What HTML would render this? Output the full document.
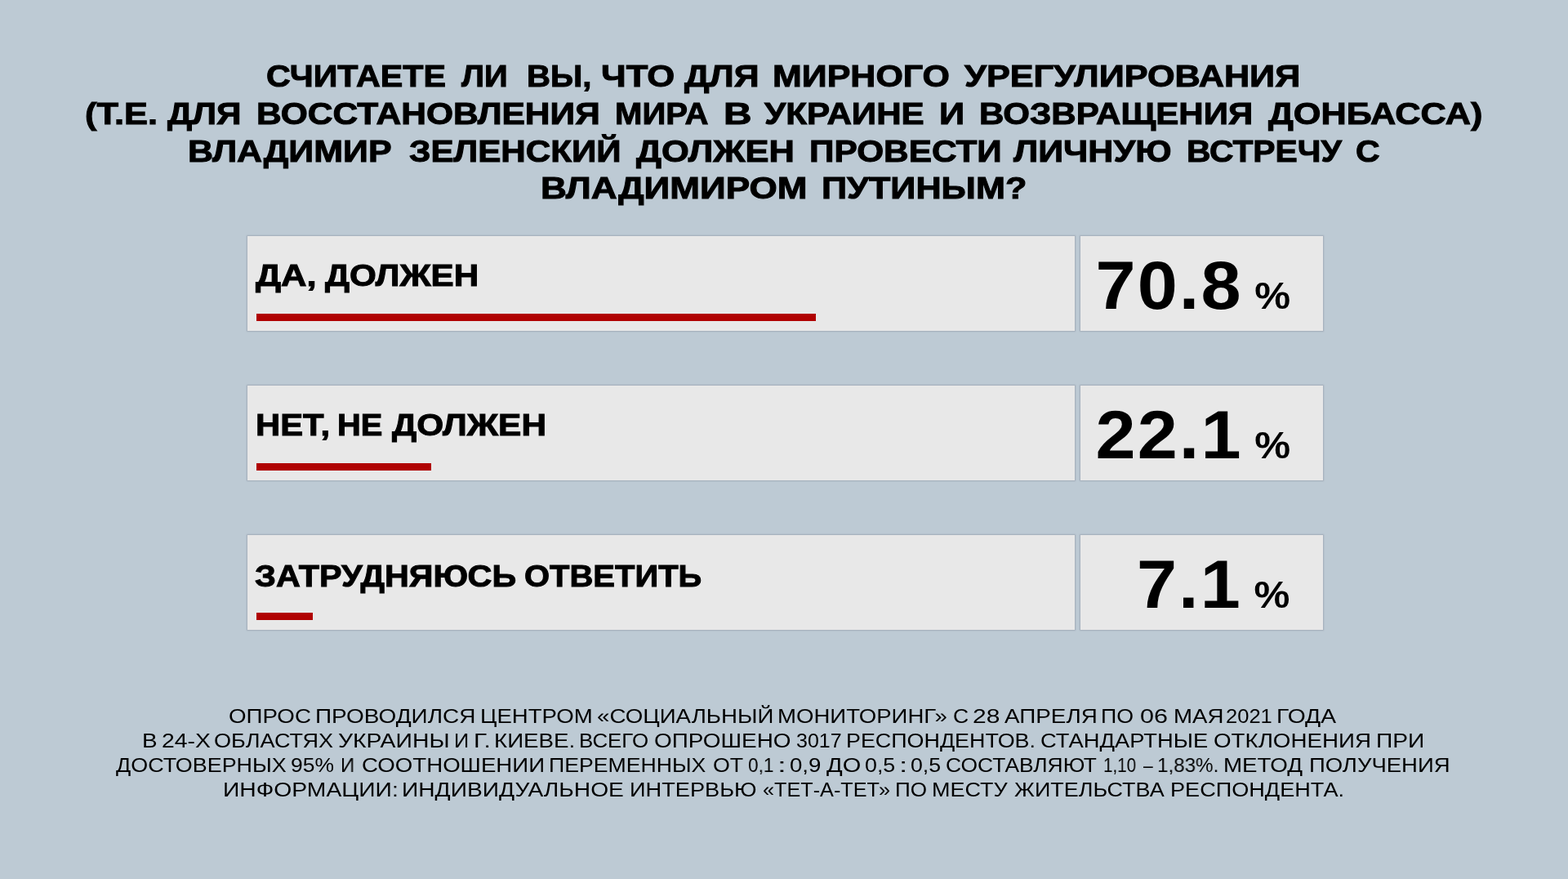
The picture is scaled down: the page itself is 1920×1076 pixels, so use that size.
<!DOCTYPE html>
<html lang="ru"><head><meta charset="utf-8"><title>Опрос: встреча Зеленского с Путиным</title>
<style>
html,body{margin:0;padding:0}
body{width:1920px;height:1076px;overflow:hidden;background:#bdcad4;font-family:"Liberation Sans",sans-serif;color:#000;position:relative}
h1,p,footer,section,main{margin:0;padding:0;font:inherit}
/* every text line is absolutely placed; scaleX widens Liberation Sans to the wide geometric face of the original */
.ln{position:absolute;display:block;left:var(--x);top:var(--y);white-space:nowrap;line-height:1;margin:0;font-weight:normal;
 transform:scaleX(var(--s));transform-origin:0 0;will-change:transform}
.b{font-weight:bold}
.t{font-size:37.2px;-webkit-text-stroke:1px #000}
.f{font-size:24.6px}
.box{position:absolute;background:#e8e8e8;box-shadow:0 0 1.5px 0.8px #a1acb8}
.bar{position:absolute;background:#b00202}
/* big numerals: real text */
.num{position:absolute;left:1323px;width:297px;height:116px}
.num span{position:absolute;right:38px;top:18px;font-family:"Liberation Sans",sans-serif;font-size:84px;line-height:1;font-weight:bold;color:#000;white-space:nowrap;letter-spacing:2px;transform:scaleX(1.05);transform-origin:100% 0}
.num span small{font-size:47px;margin-left:14px}
</style></head><body>
<h1>
<span class="tl">
<span class="ln b t" style="--x:326.4px;--y:75.36px;--s:1.109">СЧИТАЕТЕ</span>
<span class="ln b t" style="--x:565.15px;--y:75.37px;--s:1.0746">ЛИ</span>
<span class="ln b t" style="--x:644.56px;--y:75.37px;--s:1.0784">ВЫ,</span>
<span class="ln b t" style="--x:735.74px;--y:75.36px;--s:1.1737">ЧТО</span>
<span class="ln b t" style="--x:837.8px;--y:75.36px;--s:1.1546">ДЛЯ</span>
<span class="ln b t" style="--x:945.91px;--y:75.36px;--s:1.1557">МИРНОГО</span>
<span class="ln b t" style="--x:1180.78px;--y:75.36px;--s:1.1625">УРЕГУЛИРОВАНИЯ</span>
</span>
<span class="tl">
<span class="ln b t" style="--x:104.08px;--y:120.92px;--s:1.1667">(Т.Е.</span>
<span class="ln b t" style="--x:205.3px;--y:120.92px;--s:1.1404">ДЛЯ</span>
<span class="ln b t" style="--x:314.05px;--y:120.92px;--s:1.144">ВОССТАНОВЛЕНИЯ</span>
<span class="ln b t" style="--x:753.07px;--y:120.92px;--s:1.0786">МИРА</span>
<span class="ln b t" style="--x:885.87px;--y:120.92px;--s:1.2855">В</span>
<span class="ln b t" style="--x:935.73px;--y:120.92px;--s:1.1339">УКРАИНЕ</span>
<span class="ln b t" style="--x:1149.91px;--y:120.92px;--s:1.1665">И</span>
<span class="ln b t" style="--x:1198.62px;--y:120.92px;--s:1.1306">ВОЗВРАЩЕНИЯ</span>
<span class="ln b t" style="--x:1552.84px;--y:120.92px;--s:1.1629">ДОНБАССА)</span>
</span>
<span class="tl">
<span class="ln b t" style="--x:230.4px;--y:167.42px;--s:1.1555">ВЛАДИМИР</span>
<span class="ln b t" style="--x:500.69px;--y:167.42px;--s:1.1345">ЗЕЛЕНСКИЙ</span>
<span class="ln b t" style="--x:778.82px;--y:167.42px;--s:1.1688">ДОЛЖЕН</span>
<span class="ln b t" style="--x:991.08px;--y:167.42px;--s:1.1389">ПРОВЕСТИ</span>
<span class="ln b t" style="--x:1241.27px;--y:167.42px;--s:1.1566">ЛИЧНУЮ</span>
<span class="ln b t" style="--x:1452.9px;--y:167.42px;--s:1.0979">ВСТРЕЧУ</span>
<span class="ln b t" style="--x:1659.9px;--y:167.42px;--s:1.1025">С</span>
</span>
<span class="tl">
<span class="ln b t" style="--x:662.15px;--y:212.17px;--s:1.1857">ВЛАДИМИРОМ</span>
<span class="ln b t" style="--x:1005.86px;--y:212.17px;--s:1.1622">ПУТИНЫМ?</span>
</span>
</h1>
<main>
<section>
<div class="box" style="left:303px;top:289px;width:1013px;height:116px"></div>
<div class="box" style="left:1323px;top:289px;width:297px;height:116px"></div>
<div class="lbl">
<span class="ln b t" style="--x:312.83px;--y:318.66px;--s:1.1722">ДА,</span>
<span class="ln b t" style="--x:397.79px;--y:318.65px;--s:1.1345">ДОЛЖЕН</span>
</div>
<div class="bar" style="left:314px;top:384px;width:685px;height:9.25px"></div>
<div class="num" style="top:289px"><span>70.8<small>%</small></span></div>
</section>
<section>
<div class="box" style="left:303px;top:472px;width:1013px;height:116px"></div>
<div class="box" style="left:1323px;top:472px;width:297px;height:116px"></div>
<div class="lbl">
<span class="ln b t" style="--x:312.7px;--y:501.82px;--s:1.1239">НЕТ,</span>
<span class="ln b t" style="--x:413.1px;--y:501.82px;--s:1.0727">НЕ</span>
<span class="ln b t" style="--x:480.3px;--y:501.82px;--s:1.1394">ДОЛЖЕН</span>
</div>
<div class="bar" style="left:314px;top:567px;width:213.8px;height:9.25px"></div>
<div class="num" style="top:472px"><span>22.1<small>%</small></span></div>
</section>
<section>
<div class="box" style="left:303px;top:655px;width:1013px;height:116px"></div>
<div class="box" style="left:1323px;top:655px;width:297px;height:116px"></div>
<div class="lbl">
<span class="ln b t" style="--x:311.71px;--y:687.17px;--s:1.1112">ЗАТРУДНЯЮСЬ</span>
<span class="ln b t" style="--x:641.53px;--y:687.17px;--s:1.0747">ОТВЕТИТЬ</span>
</div>
<div class="bar" style="left:314px;top:750px;width:68.7px;height:9.25px"></div>
<div class="num" style="top:655px"><span>7.1<small>%</small></span></div>
</section>
</main>
<footer>
<p>
<span class="ln f" style="--x:279.88px;--y:864.58px;--s:1.1264">ОПРОС</span>
<span class="ln f" style="--x:386.41px;--y:864.58px;--s:1.1363">ПРОВОДИЛСЯ</span>
<span class="ln f" style="--x:587.79px;--y:864.58px;--s:1.1214">ЦЕНТРОМ</span>
<span class="ln f" style="--x:731.46px;--y:864.58px;--s:1.1247">«СОЦИАЛЬНЫЙ</span>
<span class="ln f" style="--x:952.49px;--y:864.58px;--s:1.121">МОНИТОРИНГ»</span>
<span class="ln f" style="--x:1167.3px;--y:864.58px;--s:1.0776">С</span>
<span class="ln f" style="--x:1191.44px;--y:864.58px;--s:1.2208">28</span>
<span class="ln f" style="--x:1230.44px;--y:864.58px;--s:1.1322">АПРЕЛЯ</span>
<span class="ln f" style="--x:1348.37px;--y:864.58px;--s:1.0868">ПО</span>
<span class="ln f" style="--x:1395.99px;--y:864.58px;--s:1.2424">06</span>
<span class="ln f" style="--x:1436.51px;--y:864.58px;--s:1.1228">МАЯ</span>
<span class="ln f" style="--x:1501.19px;--y:864.58px;--s:1.0382">2021</span>
<span class="ln f" style="--x:1563.38px;--y:864.58px;--s:1.1478">ГОДА</span>
</p>
<p>
<span class="ln f" style="--x:174.49px;--y:894.58px;--s:1.1329">В</span>
<span class="ln f" style="--x:197.87px;--y:894.58px;--s:1.1534">24-Х</span>
<span class="ln f" style="--x:261.52px;--y:894.58px;--s:1.0993">ОБЛАСТЯХ</span>
<span class="ln f" style="--x:414.11px;--y:894.58px;--s:1.154">УКРАИНЫ</span>
<span class="ln f" style="--x:555.61px;--y:894.58px;--s:1.028">И</span>
<span class="ln f" style="--x:579.69px;--y:894.58px;--s:1.2091">Г.</span>
<span class="ln f" style="--x:605.39px;--y:894.58px;--s:1.1266">КИЕВЕ.</span>
<span class="ln f" style="--x:709.13px;--y:894.58px;--s:1.0521">ВСЕГО</span>
<span class="ln f" style="--x:800.85px;--y:894.58px;--s:1.1344">ОПРОШЕНО</span>
<span class="ln f" style="--x:974.65px;--y:894.58px;--s:1.0147">3017</span>
<span class="ln f" style="--x:1035.52px;--y:894.58px;--s:1.0929">РЕСПОНДЕНТОВ.</span>
<span class="ln f" style="--x:1274.28px;--y:894.58px;--s:1.1115">СТАНДАРТНЫЕ</span>
<span class="ln f" style="--x:1485.89px;--y:894.58px;--s:1.1275">ОТКЛОНЕНИЯ</span>
<span class="ln f" style="--x:1684.85px;--y:894.58px;--s:1.1447">ПРИ</span>
</p>
<p>
<span class="ln f" style="--x:142.31px;--y:924.58px;--s:1.0934">ДОСТОВЕРНЫХ</span>
<span class="ln f" style="--x:356.38px;--y:924.58px;--s:1.0748">95%</span>
<span class="ln f" style="--x:416.69px;--y:924.58px;--s:0.9677">И</span>
<span class="ln f" style="--x:443.2px;--y:924.58px;--s:1.1231">СООТНОШЕНИИ</span>
<span class="ln f" style="--x:672.49px;--y:924.58px;--s:1.084">ПЕРЕМЕННЫХ</span>
<span class="ln f" style="--x:872.88px;--y:924.58px;--s:1.0894">ОТ</span>
<span class="ln f" style="--x:916.13px;--y:924.58px;--s:0.9192">0,1</span>
<span class="ln f" style="--x:952.37px;--y:924.58px;--s:1.5793">:</span>
<span class="ln f" style="--x:967.46px;--y:924.58px;--s:1.1237">0,9</span>
<span class="ln f" style="--x:1011.53px;--y:924.58px;--s:1.1797">ДО</span>
<span class="ln f" style="--x:1058.69px;--y:924.58px;--s:1.089">0,5</span>
<span class="ln f" style="--x:1100.88px;--y:924.58px;--s:1.5024">:</span>
<span class="ln f" style="--x:1114.6px;--y:924.58px;--s:1.0858">0,5</span>
<span class="ln f" style="--x:1157.61px;--y:924.58px;--s:1.0724">СОСТАВЛЯЮТ</span>
<span class="ln f" style="--x:1350.76px;--y:924.58px;--s:0.8369">1,10</span>
<span class="ln f" style="--x:1399.64px;--y:924.58px;--s:0.8571">–</span>
<span class="ln f" style="--x:1417.08px;--y:924.58px;--s:0.9832">1,83%.</span>
<span class="ln f" style="--x:1497.94px;--y:924.58px;--s:1.1273">МЕТОД</span>
<span class="ln f" style="--x:1602.95px;--y:924.58px;--s:1.1188">ПОЛУЧЕНИЯ</span>
</p>
<p>
<span class="ln f" style="--x:273.29px;--y:954.58px;--s:1.1508">ИНФОРМАЦИИ:</span>
<span class="ln f" style="--x:492.37px;--y:954.58px;--s:1.1458">ИНДИВИДУАЛЬНОЕ</span>
<span class="ln f" style="--x:770.71px;--y:954.58px;--s:1.1053">ИНТЕРВЬЮ</span>
<span class="ln f" style="--x:933.56px;--y:954.58px;--s:1.0261">«ТЕТ-А-ТЕТ»</span>
<span class="ln f" style="--x:1095.55px;--y:954.58px;--s:1.0602">ПО</span>
<span class="ln f" style="--x:1140.83px;--y:954.58px;--s:1.0974">МЕСТУ</span>
<span class="ln f" style="--x:1242.22px;--y:954.58px;--s:1.0961">ЖИТЕЛЬСТВА</span>
<span class="ln f" style="--x:1433.08px;--y:954.58px;--s:1.1016">РЕСПОНДЕНТА.</span>
</p>
</footer>
</body></html>
